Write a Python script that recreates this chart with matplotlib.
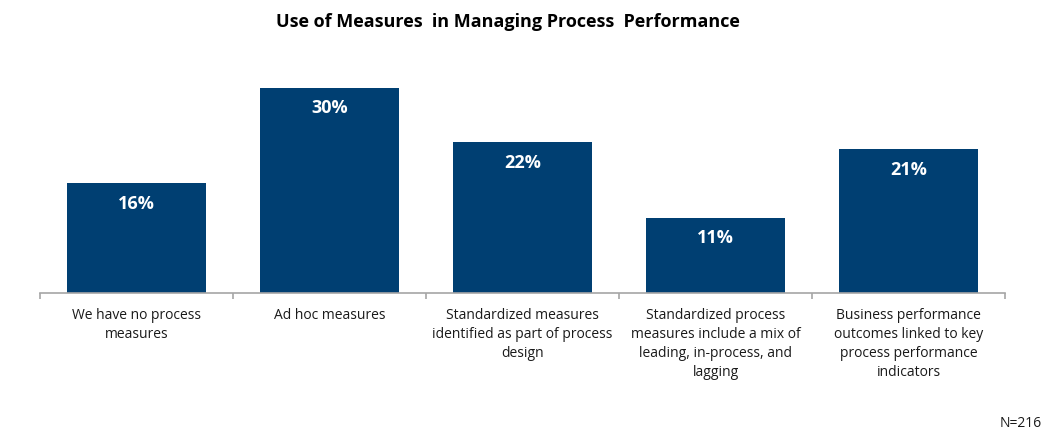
import numpy as np
import matplotlib.pyplot as plt

categories = [
    "We have no process\nmeasures",
    "Ad hoc measures",
    "Standardized measures\nidentified as part of process\ndesign",
    "Standardized process\nmeasures include a mix of\nleading, in-process, and\nlagging",
    "Business performance\noutcomes linked to key\nprocess performance\nindicators",
]
values = [16, 30, 22, 11, 21]

bar_color = "#003f72"
axis_color = "#a6a6a6"

fig = plt.figure(figsize=(10.5, 4.39), dpi=100)
ax = fig.add_axes([40 / 1050, 1 - 294 / 439, 965 / 1050, (294 - 55) / 439])

x = np.arange(len(values))
ax.bar(x, values, width=0.725, color=bar_color)
ax.set_xlim(-0.5, len(values) - 0.5)
ax.set_ylim(0, 34.9)

for xi, v in zip(x, values):
    ax.annotate(f"{v}%", (xi, v), xytext=(0, -14), textcoords="offset points",
                ha="center", va="center", color="white", fontsize=13,
                fontweight="bold", family="Open Sans")

for s in ["top", "right", "left"]:
    ax.spines[s].set_visible(False)
ax.spines["bottom"].set_color(axis_color)
ax.spines["bottom"].set_linewidth(1.2)
ax.set_yticks([])

# ticks at the category boundaries, labels centred under bars
ax.set_xticks(np.arange(len(values) + 1) - 0.5)
ax.set_xticklabels([])
ax.tick_params(axis="x", direction="out", length=4, color=axis_color, width=1.2)
for xi, lab in zip(x, categories):
    ax.text(xi, -2.1, lab, ha="center", va="top", fontsize=10,
            family="Open Sans", color="#1a1a1a", linespacing=1.35)

fig.text(0.484, 0.949, "Use of Measures  in Managing Process  Performance",
         ha="center", va="center", fontsize=13, fontweight="bold",
         family="Open Sans", color="black")
fig.text(0.992, 0.035, "N=216", ha="right", va="center", fontsize=10,
         family="Open Sans", color="#1a1a1a")

fig.savefig("out.png", dpi=100)
